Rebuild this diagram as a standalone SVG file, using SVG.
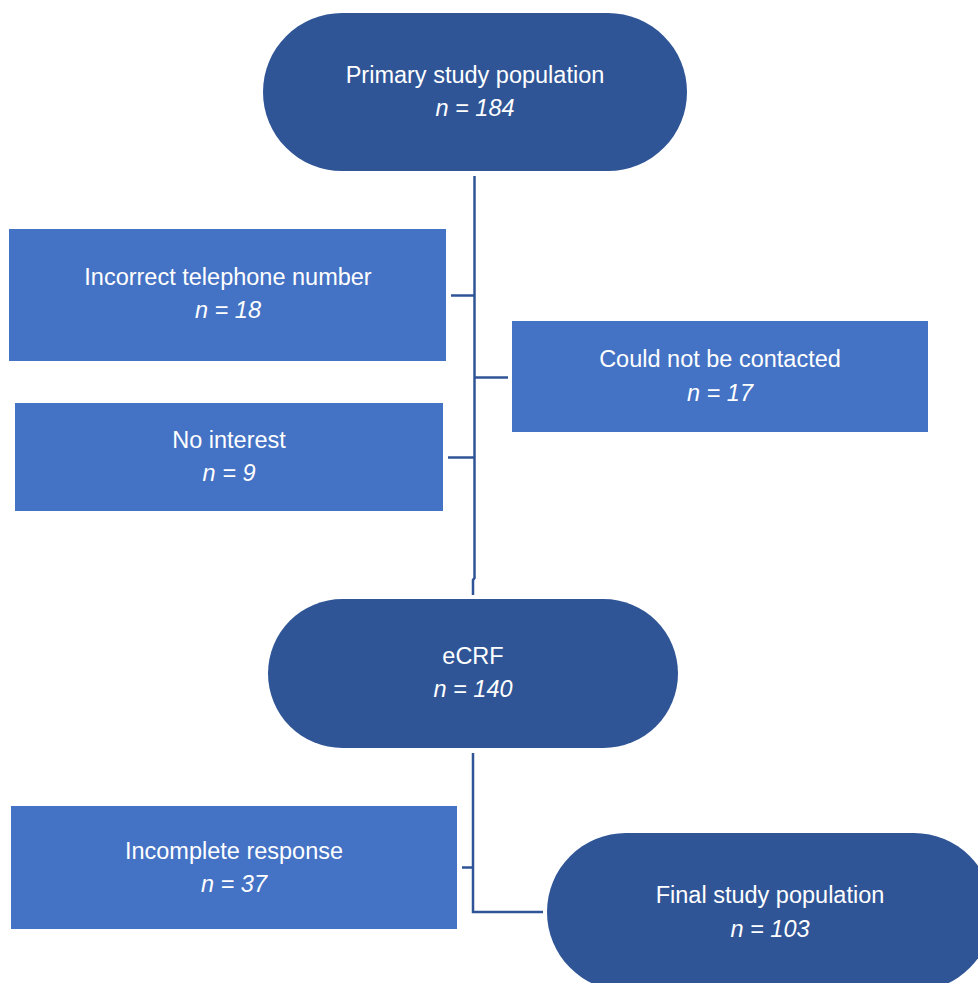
<svg xmlns="http://www.w3.org/2000/svg" width="978" height="983" viewBox="0 0 978 983">
<style>
.dark{fill:#2F5597}
.light{fill:#4472C4}
text{font-family:"Liberation Sans",Arial,sans-serif;font-size:23.5px;fill:#ffffff;text-anchor:middle}
.n{font-style:italic}
.ln{stroke:#2F5597;stroke-width:2.5;fill:none}
</style>
<rect width="978" height="983" fill="#ffffff"/>
<g id="connectors">
<path class="ln" d="M474.5,176 V578 L473,580 V595"/>
<path class="ln" d="M451,295.5 H474.5"/>
<path class="ln" d="M474.5,377.5 H508"/>
<path class="ln" d="M448,457.5 H474.5"/>
<path class="ln" d="M473,753 V912 H543"/>
<path class="ln" d="M462,867.5 H473"/>
</g>
<g id="primary">
<rect class="dark" x="263" y="13" width="424" height="158" rx="79"/>
<text x="475" y="83">Primary study population</text>
<text class="n" x="475" y="116">n = 184</text>
</g>
<g id="incorrect">
<rect class="light" x="9" y="229" width="437" height="132"/>
<text x="228" y="285">Incorrect telephone number</text>
<text class="n" x="228" y="318">n = 18</text>
</g>
<g id="contacted">
<rect class="light" x="512" y="321" width="416" height="111"/>
<text x="720" y="367">Could not be contacted</text>
<text class="n" x="720" y="401">n = 17</text>
</g>
<g id="nointerest">
<rect class="light" x="15" y="403" width="428" height="108"/>
<text x="229" y="448">No interest</text>
<text class="n" x="229" y="481">n = 9</text>
</g>
<g id="ecrf">
<rect class="dark" x="268" y="599" width="410" height="149" rx="74.5"/>
<text x="473" y="664">eCRF</text>
<text class="n" x="473" y="697">n = 140</text>
</g>
<g id="incomplete">
<rect class="light" x="11" y="806" width="446" height="123"/>
<text x="234" y="859">Incomplete response</text>
<text class="n" x="234" y="892">n = 37</text>
</g>
<g id="final">
<rect class="dark" x="547" y="833" width="446" height="158" rx="79"/>
<text x="770" y="903">Final study population</text>
<text class="n" x="770" y="937">n = 103</text>
</g>
</svg>
